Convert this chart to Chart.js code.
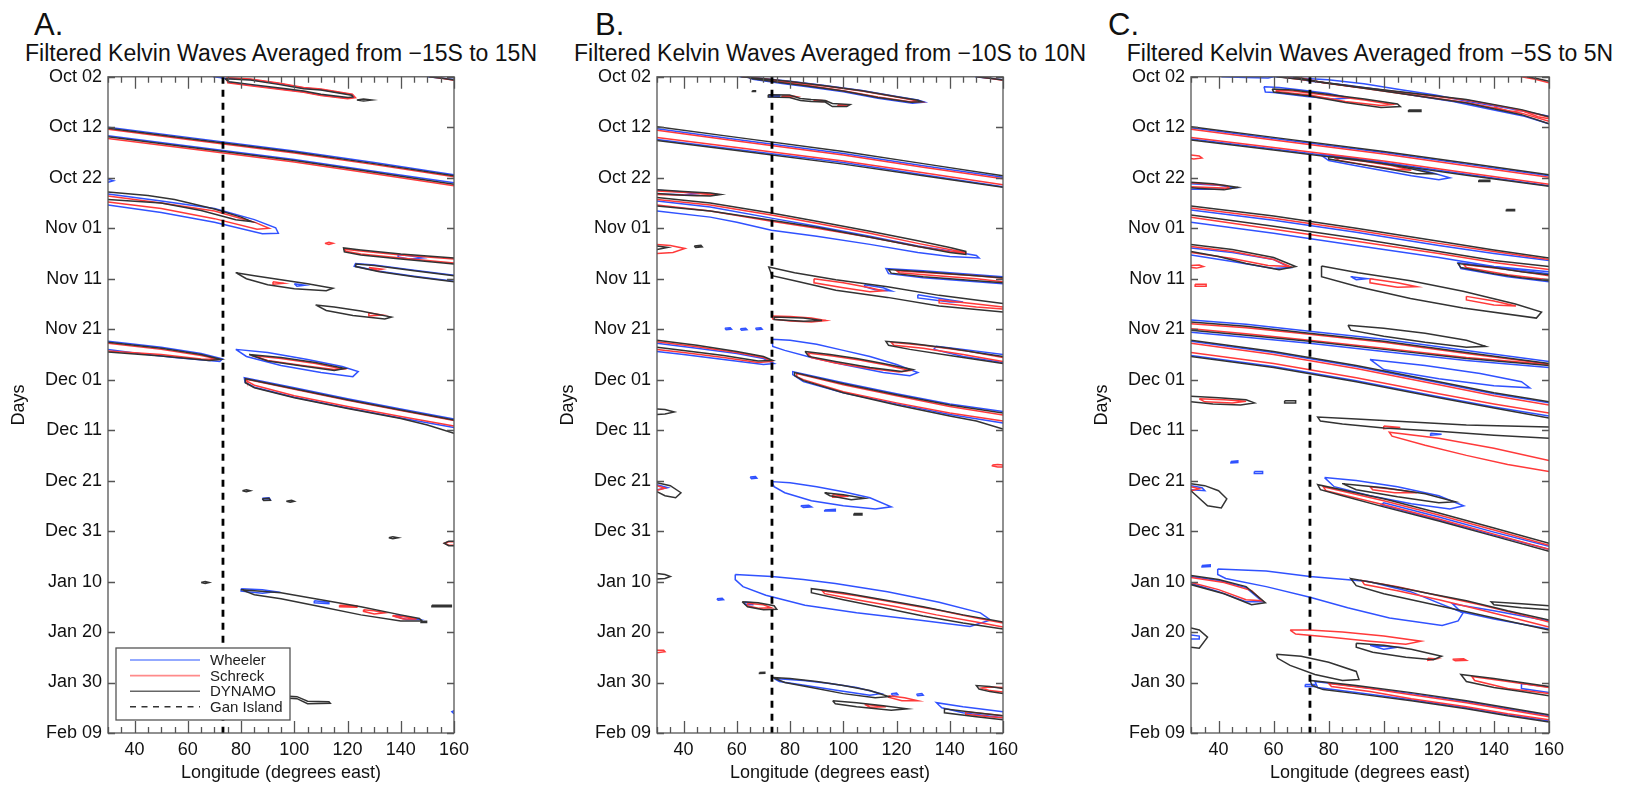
<!DOCTYPE html>
<html>
<head>
<meta charset="utf-8">
<script src="https://cdn.jsdelivr.net/npm/chart.js@4.4.1/dist/chart.umd.min.js"></script>
<style>
  body { margin: 0; background: #fff; width: 1637px; height: 786px; overflow: hidden; position: relative;
         font-family: "Liberation Sans", Arial, Helvetica, sans-serif; color: #111; }
  .letter { position: absolute; top: 9px; font-size: 31px; line-height: 1; }
  .ttl { position: absolute; top: 42px; width: 640px; text-align: center; font-size: 23px; line-height: 1; white-space: nowrap; }
  canvas { position: absolute; top: 60px; }
</style>
</head>
<body>
<div class="letter" style="left:34px">A.</div>
<div class="letter" style="left:595px">B.</div>
<div class="letter" style="left:1108px">C.</div>
<div class="ttl" style="left:-39px">Filtered Kelvin Waves Averaged from −15S to 15N</div>
<div class="ttl" style="left:510px">Filtered Kelvin Waves Averaged from −10S to 10N</div>
<div class="ttl" style="left:1050px">Filtered Kelvin Waves Averaged from −5S to 5N</div>
<canvas id="panelA"></canvas>
<canvas id="panelB"></canvas>
<canvas id="panelC"></canvas>
<script>
// axes
const lonTicks = [40, 60, 80, 100, 120, 140, 160];
const dayTicks = [0, 10, 20, 30, 40, 50, 60, 70, 80, 90, 100, 110, 120, 130];
const dayLabels = ['Oct 02', 'Oct 12', 'Oct 22', 'Nov 01', 'Nov 11', 'Nov 21', 'Dec 01',
                   'Dec 11', 'Dec 21', 'Dec 31', 'Jan 10', 'Jan 20', 'Jan 30', 'Feb 09'];
const ganLon = 73.2;
const legendLabels = ['Wheeler', 'Schreck', 'DYNAMO', 'Gan Island'];

// contours: each entry is [lon, day, lon, day, ...]
const wheelerA = [
  [69.5,0, 72,0.15, 74,0.35],
  [74,0.3, 83.5,0.55, 94,1.35, 103.5,2.2, 110,2.5, 121.8,3.55, 122.5,4.05, 120,4.25, 110,3.6, 103.5,2.95, 96.5,2.5, 83.5,1.65, 75.5,1.1, 74,0.3],
  [150,0, 155,0.25, 160,0.55],
  [30,10.0, 60,12.0, 100,14.7, 130,17.0, 160,19.4],
  [30,11.7, 60,13.7, 100,16.4, 130,18.7, 160,21.0],
  [30,20.3, 32,20.6, 30,20.9],
  [30,23.2, 50,24.6, 70,26.1, 85,28.3, 93,29.9, 94,31.0, 88,31.1, 70,28.8, 50,26.9, 30,25.4],
  [139,35.2, 144,35.5, 148,35.9, 143,36.1, 139,35.7, 139,35.2],
  [160,39.3, 145,38.3, 130,37.3, 123,37.0, 122.5,37.5, 132,38.5, 145,39.5, 160,40.5],
  [100,41.0, 104,41.3, 101,41.5, 100,41.0],
  [30,52.4, 50,53.6, 65,54.8, 73,55.9, 72,56.4, 55,55.6, 40,54.7, 30,54.0],
  [78,54.0, 90,54.6, 105,56.0, 118,57.4, 124,58.4, 122,59.4, 110,58.6, 95,57.2, 82,55.4, 78,54.0],
  [160,67.8, 140,65.8, 120,63.8, 100,61.6, 81.2,59.6, 81.5,60.5, 85,61.5, 100,63.5, 120,65.6, 140,67.6, 160,69.5],
  [88,83.5, 90.5,83.4, 91,83.8, 88.5,83.9, 88,83.5],
  [80,101.4, 88,101.6, 93,102.0, 88,102.3, 80,101.9, 80,101.4],
  [107.5,103.8, 113,104.1, 113,104.4, 107.5,104.2, 107.5,103.8],
  [138,106.6, 143,107.0, 147,107.5, 142,107.5, 138,106.9, 138,106.6],
  [160,125.6, 159.2,125.8, 160,126.2]
];
const schreckA = [
  [74.5,0.15, 83.5,0.45, 94,1.25, 103.5,2.1, 110,2.4, 121.8,3.45, 123,4.15, 120,4.35, 110,3.7, 103.5,3.05, 96.5,2.6, 83.5,1.75, 75,1.2, 74.5,0.15],
  [151,0, 156,0.35, 160,0.7],
  [30,10.4, 60,12.4, 100,15.1, 130,17.4, 160,19.8],
  [30,12.2, 60,14.2, 100,16.9, 130,19.2, 160,21.6],
  [30,23.6, 50,25.0, 70,26.6, 85,28.8, 90.5,30.0, 86,30.2, 70,28.1, 50,26.1, 30,24.8],
  [111.5,33.0, 113,32.8, 114.5,33.0, 113,33.2, 111.5,33.0],
  [160,36.1, 150,35.7, 140,35.3, 125,34.5, 118.8,34.15, 119.3,34.55, 125,35.1, 140,35.9, 150,36.4, 160,36.9],
  [128,37.8, 133,38.1, 131,38.3, 128,37.8],
  [92,40.6, 96,40.9, 92,41.1, 92,40.6],
  [128,46.8, 133,47.2, 128,47.4, 128,46.8],
  [30,52.8, 50,54.0, 65,55.2, 72,56.0, 65,55.9, 50,55.0, 30,54.3],
  [84,55.2, 95,55.8, 108,56.8, 118,57.9, 115,58.0, 103,57.2, 90,56.2, 84,55.2],
  [160,68.1, 140,66.1, 120,64.1, 100,61.9, 82,59.9, 82.2,60.3, 85,61.1, 100,63.2, 120,65.3, 140,67.3, 160,69.2],
  [160,92.1, 158,92.1, 156.5,92.4, 158,92.8, 160,92.8],
  [117,104.7, 123.5,104.8, 123.5,105.1, 117,105.0, 117,104.7],
  [126,105.6, 130,105.8, 134,106.2, 130,106.4, 126,105.9, 126,105.6],
  [137,106.7, 142,107.0, 146,107.4, 141,107.4, 137,106.8, 137,106.7]
];
const dynamoA = [
  [74,0.4, 83.5,0.65, 94,1.5, 103.5,2.35, 110,2.6, 121.6,3.66, 122,4.0, 120.2,4.1, 110,3.47, 103.5,2.8, 96.9,2.35, 83.5,1.5, 75.5,1.0, 74,0.4],
  [123.5,4.6, 126,4.42, 129,4.6, 126,4.78, 123.5,4.6],
  [150.5,0, 155.5,0.3, 160,0.62],
  [30,10.2, 60,12.2, 100,14.9, 130,17.2, 160,19.6],
  [30,11.9, 60,13.9, 100,16.6, 130,18.9, 160,21.3],
  [30,22.8, 45,23.5, 55,24.3, 70,26.2, 80,27.8, 84,28.7, 78,28.3, 65,26.5, 50,25.0, 30,24.3],
  [160,35.9, 150,35.5, 140,35.1, 125,34.3, 118.5,33.9, 118.8,34.7, 125,35.3, 140,36.1, 150,36.6, 160,37.1],
  [160,39.4, 145,38.4, 130,37.4, 123.2,37.1, 123,37.6, 132,38.6, 145,39.6, 160,40.6],
  [78,38.8, 85,39.4, 95,40.2, 105,41.0, 114.5,41.9, 112,42.4, 100,42.0, 90,41.2, 82,40.0, 78,38.8],
  [108,45.2, 115,45.6, 125,46.4, 136.5,47.6, 134,48.0, 122,47.3, 112,46.3, 108,45.2],
  [30,52.6, 50,53.8, 65,55.0, 72.5,56.0, 68,56.2, 50,55.3, 30,54.5],
  [83,55.0, 95,55.6, 108,56.6, 119,57.8, 115,58.2, 103,57.3, 90,56.3, 83,55.0],
  [160,68.0, 140,66.0, 120,64.0, 100,61.8, 81.6,59.8, 81.6,60.6, 85,61.6, 100,63.6, 120,65.7, 140,67.7, 150,69.0, 160,70.6],
  [80.5,82.0, 82,81.8, 83.5,82.0, 82,82.2, 80.5,82.0],
  [88,83.6, 90.5,83.5, 91,83.9, 88.5,83.95, 88,83.6],
  [97,84.1, 99,83.9, 100,84.1, 98.5,84.3, 97,84.1],
  [135.5,91.3, 137,91.1, 139,91.3, 137,91.5, 135.5,91.3],
  [160,92.0, 158,92.0, 156.3,92.4, 158,92.9, 160,92.9],
  [65,100.2, 66.5,100.0, 68,100.2, 66.5,100.4, 65,100.2],
  [80,101.6, 95,102.2, 110,103.6, 125,105.0, 140,106.6, 147,107.3, 148,107.8, 140,107.8, 125,106.6, 110,105.0, 95,103.4, 85,102.6, 80,101.6],
  [147.6,107.9, 149.7,107.85, 149.7,108.1, 147.6,108.1, 147.6,107.9],
  [151.7,104.7, 159,104.7, 159,105.0, 151.7,105.0, 151.7,104.7],
  [85,122.4, 95,122.6, 101,122.8, 105,123.7, 113,123.8, 113.5,124.1, 105,124.2, 101,123.2, 95,123.0, 85,122.8, 85,122.4]
];

const wheelerB = [
  [61,0, 69,0.3, 80,0.9, 93,1.7, 107,2.7, 120,3.9, 128,4.6, 130.5,5.0, 126,5.25, 113,4.25, 100,2.95, 86.5,1.95, 77,1.35, 66,0.5, 63.5,0],
  [72,3.65, 76,3.65, 76,3.95, 72,3.95, 72,3.65],
  [149.5,0, 155,0.3, 160,0.6],
  [30,10.3, 60,12.4, 100,15.2, 130,17.6, 160,19.9],
  [30,12.4, 60,14.4, 100,17.0, 130,19.4, 160,21.8],
  [30,22.5, 40,22.8, 46,23.1, 40,23.35, 30,23.2],
  [30,24.6, 50,25.8, 73,28.0, 90,29.6, 110,31.6, 128,33.5, 140,34.5, 150,35.4, 151,35.9, 140,35.6, 128,34.8, 110,33.2, 90,31.6, 73,30.4, 60,28.8, 50,27.8, 30,26.6],
  [160,39.6, 145,39.0, 130,38.4, 116,38.0, 117,39.0, 130,39.8, 145,40.4, 160,41.0],
  [108,41.2, 115,41.8, 118,42.4, 112,42.2, 108,41.6, 108,41.2],
  [128,43.2, 140,44.2, 145,44.6, 140,44.6, 128,43.8, 128,43.2],
  [55.5,49.8, 57.5,49.7, 58,50.0, 56,50.1, 55.5,49.8],
  [61.3,49.9, 63.3,49.8, 63.8,50.1, 61.8,50.2, 61.3,49.9],
  [67,49.8, 69,49.7, 69.5,50.0, 67.5,50.1, 67,49.8],
  [30,52.8, 45,53.8, 60,54.8, 70,55.8, 74,56.8, 70,57.0, 55,56.0, 40,55.0, 30,54.4],
  [73.2,52.0, 80,52.2, 90,53.0, 100,54.2, 110,55.4, 120,57.0, 128,58.6, 125,59.2, 115,58.6, 100,57.0, 88,55.6, 78,54.2, 73.5,53.4, 73.2,52.0],
  [160,55.0, 145,54.0, 135,53.4, 134,54.0, 145,55.4, 160,56.6],
  [160,66.3, 140,64.8, 120,62.8, 100,60.6, 81,58.4, 81,59.0, 85,60.4, 100,62.6, 120,64.8, 140,66.9, 160,68.6],
  [73.2,80.2, 80,80.4, 90,81.2, 100,82.2, 110,83.4, 118,85.2, 112,85.6, 100,85.0, 88,84.0, 78,82.4, 74,81.2, 73.2,80.2],
  [65,79.3, 67,79.2, 67.5,79.5, 65.5,79.6, 65,79.3],
  [84,85.0, 87,84.9, 88,85.2, 85,85.3, 84,85.0],
  [93,85.8, 97,85.7, 97,86.0, 93,86.0, 93,85.8],
  [30,80.8, 34,81.4, 30,81.8],
  [59.4,98.6, 73.2,99.0, 85,99.6, 97,100.4, 116.6,102.0, 136,104.1, 151.5,106.2, 155.3,107.6, 147.6,108.9, 128.2,107.6, 105,106.2, 85.6,104.7, 70.9,102.7, 62.3,101.0, 59.4,99.6, 59.4,98.6],
  [52.5,103.4, 54.5,103.3, 55,103.6, 53,103.7, 52.5,103.4],
  [63,104.1, 66,104.2, 66,104.6, 63,104.5, 63,104.1],
  [74,119.2, 85,119.6, 95,120.2, 105,121.0, 114,122.2, 110,122.5, 98,121.6, 86,120.6, 76,119.8, 74,119.2],
  [118,122.2, 120,122.1, 120.5,122.4, 118.5,122.5, 118,122.2],
  [127.5,122.3, 129.5,122.2, 130,122.5, 128,122.6, 127.5,122.3],
  [160,125.8, 145,124.8, 135,124.0, 137,125.0, 145,126.0, 160,127.0]
];
const schreckB = [
  [62,0, 70,0.4, 80,1.0, 93,1.8, 107,2.8, 120,4.0, 127,4.7, 129,4.95, 125,4.95, 113,4.0, 100,2.75, 86.5,1.7, 77,1.1, 66,0.3, 64,0],
  [77,3.8, 80,3.75, 82,3.9, 80,4.0, 77,3.95, 77,3.8],
  [89,4.65, 92,4.7, 94,4.85, 92,4.9, 89,4.8, 89,4.65],
  [98,5.55, 102,5.6, 98,5.75, 98,5.55],
  [150.5,0, 155.5,0.35, 160,0.7],
  [30,10.6, 60,12.7, 100,15.5, 130,17.9, 160,20.2],
  [30,12.0, 60,14.0, 100,16.7, 130,19.0, 160,21.4],
  [30,22.6, 45,23.0, 53,23.3, 45,23.5, 30,23.3],
  [30,24.3, 50,25.4, 73,27.4, 90,29.0, 110,31.0, 128,33.0, 140,34.2, 146,34.8, 146,35.0, 140,34.6, 128,33.6, 110,31.8, 90,30.0, 73,28.6, 50,26.6, 30,25.4],
  [30,33.2, 35,33.4, 40.5,34.0, 36,34.8, 30,35.0],
  [160,39.9, 150,39.4, 135,38.9, 120,38.4, 121,38.8, 135,39.4, 150,40.0, 160,40.6],
  [89,40.0, 100,40.8, 110,41.8, 115,42.4, 110,42.6, 100,41.8, 89,40.8, 89,40.0],
  [160,45.6, 150,45.0, 136,44.2, 136,44.8, 150,45.6, 160,46.0],
  [73.2,47.4, 80,47.5, 88,47.8, 93.5,48.3, 88,48.6, 80,48.4, 73.5,48.0, 73.2,47.4],
  [30,52.5, 45,53.5, 60,54.6, 70,55.6, 73,56.4, 68,56.6, 55,55.6, 40,54.6, 30,54.0],
  [86.5,54.7, 96,55.3, 106,56.1, 116,57.1, 125,58.2, 121,58.5, 110,57.8, 97,56.7, 88,55.6, 86.5,54.7],
  [160,55.6, 145,54.2, 130,53.2, 118,52.6, 119,53.2, 130,53.8, 145,55.0, 160,56.4],
  [160,67.0, 140,65.3, 120,63.2, 100,61.0, 82.5,58.8, 82.5,59.4, 85,60.0, 100,62.4, 120,64.6, 140,66.6, 160,68.2],
  [156,76.9, 158,76.8, 160,76.9, 160,77.3, 158,77.3, 156,77.1, 156,76.9],
  [96,82.8, 102,83.1, 96,83.3, 96,82.8],
  [30,81.0, 33,81.5, 30,81.9],
  [160,108.2, 150,107.2, 135,105.6, 120,104.2, 105,102.8, 92,101.8, 93,102.4, 105,103.6, 120,105.0, 135,106.6, 150,108.0, 160,109.0],
  [64,104.3, 70,104.6, 73,105.2, 68,105.3, 64,104.8, 64,104.3],
  [30,113.6, 32.5,113.6, 33,113.9, 30,114.1],
  [117,122.6, 123,123.0, 128,123.6, 122,123.6, 117,122.9, 117,122.6],
  [160,121.0, 155,120.9, 152,121.1, 155,121.6, 160,121.9],
  [108,124.3, 116,124.8, 110,124.9, 108,124.3],
  [160,126.6, 155,126.3, 146,125.8, 146,126.3, 155,126.8, 160,127.0]
];
const dynamoB = [
  [61.5,0, 69,0.35, 80,0.95, 93,1.75, 107,2.75, 120,3.95, 128,4.65, 129.5,4.95, 125.5,5.05, 113,4.1, 100,2.8, 86.5,1.8, 77,1.2, 66,0.4, 63.8,0],
  [71.8,3.55, 79.8,3.6, 83.9,4.3, 87.9,4.5, 93.2,4.7, 95.9,5.3, 102.6,5.5, 101.3,5.9, 95.9,5.9, 93.2,5.0, 87.9,4.9, 83.9,4.7, 79.8,4.1, 71.8,4.0, 71.8,3.55],
  [65.8,2.75, 67,2.75, 67,2.9, 65.8,2.9, 65.8,2.75],
  [150,0, 155,0.3, 160,0.62],
  [30,9.9, 60,12.0, 100,14.8, 130,17.2, 160,19.6],
  [30,12.6, 60,14.6, 100,17.3, 130,19.6, 160,21.9],
  [30,22.4, 40,22.7, 50,23.0, 54,23.3, 50,23.6, 40,23.45, 30,23.1],
  [30,23.9, 50,25.0, 73,27.0, 90,28.6, 110,30.6, 128,32.5, 140,33.8, 146,34.6, 146,35.2, 140,34.8, 128,33.6, 110,31.8, 90,29.8, 73,28.4, 50,26.6, 30,25.6],
  [30,33.5, 34,33.8, 30,34.2],
  [44,33.5, 46.5,33.4, 47,33.7, 44.5,33.8, 44,33.5],
  [160,39.8, 145,39.2, 130,38.6, 117,38.2, 118,38.9, 130,39.6, 145,40.2, 160,40.8],
  [160,44.9, 136,43.3, 116.6,41.6, 97.2,40.2, 81.7,38.8, 72,37.7, 73.2,39.4, 81.7,40.4, 97.2,42.3, 116.6,43.7, 136,45.4, 160,46.6],
  [74,47.6, 85,47.8, 92,48.3, 85,48.45, 74,48.1, 74,47.6],
  [30,52.2, 45,53.2, 60,54.4, 70,55.4, 73.5,56.2, 68,56.3, 55,55.2, 40,54.2, 30,53.6],
  [85.6,54.4, 95,55.0, 105,55.8, 115,56.8, 126,58.0, 122,58.4, 110,57.6, 97,56.4, 87,55.4, 85.6,54.4],
  [160,55.4, 150,54.6, 140,53.8, 125,52.8, 116,52.4, 117,53.2, 125,54.0, 140,55.2, 150,56.0, 160,56.8],
  [160,66.6, 140,65.0, 120,63.0, 100,60.8, 81.7,58.6, 81.7,59.2, 85,60.2, 100,62.6, 120,65.0, 140,67.2, 150,68.2, 160,69.8],
  [30,65.8, 33,65.9, 36.5,66.4, 33,66.8, 30,66.9],
  [93,82.4, 100,82.8, 108,83.5, 103,83.8, 95,83.0, 93,82.4],
  [104,86.5, 107,86.5, 107,86.8, 104,86.8, 104,86.5],
  [30,80.4, 35,81.0, 39,82.4, 37,83.4, 33,83.0, 30,82.2],
  [160,108.0, 145,106.6, 130,105.0, 115,103.6, 100,102.2, 88,101.4, 88,102.2, 100,103.6, 115,105.2, 130,106.8, 145,108.2, 160,109.4],
  [30,98.4, 33,98.6, 35,99.0, 33,99.4, 30,99.5],
  [62,104.0, 68,104.2, 74,104.8, 75,105.5, 70,105.6, 64,105.0, 62,104.0],
  [68.5,118.0, 70.5,117.95, 70.5,118.15, 68.5,118.2, 68.5,118.0],
  [73.5,119.0, 80,119.2, 90,119.8, 100,120.6, 110,121.6, 117,122.8, 112,123.0, 100,122.2, 88,121.0, 78,120.0, 73.5,119.0],
  [160,121.2, 155,120.8, 150,120.6, 151,121.3, 155,121.8, 160,122.2],
  [96,123.6, 105,124.0, 115,124.6, 124,125.2, 118,125.5, 105,124.8, 97,124.2, 96,123.6],
  [160,126.6, 150,126.0, 138,125.2, 138,126.0, 150,126.8, 160,127.4]
];

const wheelerC = [
  [60,0, 66.8,0.2, 79.8,0.6, 92.8,1.4, 105.7,2.5, 118.7,3.6, 131.7,5.0, 144.7,6.2, 160,7.8],
  [66,0, 73.3,0.9, 86.3,1.6, 99.3,2.6, 112.2,3.8, 125.2,4.9, 138.2,6.4, 151.1,7.8, 160,9.3],
  [41,0, 50,0.15, 58,0.25, 60,0],
  [56.5,1.95, 62,2.1, 70,2.6, 80,3.3, 88,4.2, 82,4.4, 72,3.9, 60,3.1, 57,3.0, 56.5,1.95],
  [30,10.1, 60,12.2, 100,15.0, 130,17.3, 160,19.6],
  [30,12.3, 60,14.3, 100,17.0, 130,19.3, 160,21.6],
  [30,21.2, 40,21.5, 46,22.0, 40,22.3, 30,22.3],
  [77,15.4, 85,15.8, 95,16.6, 105,17.4, 115,18.6, 124,20.0, 120,20.4, 110,19.6, 100,18.6, 90,17.6, 80,16.6, 77,15.4],
  [30,26.4, 60,28.4, 90,30.8, 120,33.4, 140,35.0, 160,36.4],
  [30,28.8, 60,31.0, 90,33.4, 120,35.8, 140,37.6, 160,38.6],
  [30,33.9, 45,34.8, 60,36.2, 66,37.8, 60,38.0, 45,36.6, 30,35.3],
  [88,39.6, 94,40.0, 90,40.2, 88,39.6],
  [160,39.0, 145,38.0, 127,36.8, 128,38.0, 145,39.6, 160,40.6],
  [30,48.2, 50,49.0, 73,50.4, 100,52.0, 130,54.2, 160,56.4],
  [30,50.6, 50,51.6, 73,52.8, 100,54.4, 130,56.2, 160,57.6],
  [30,52.4, 60,54.6, 90,57.4, 120,60.6, 140,62.8, 160,64.6],
  [30,55.2, 60,57.4, 90,60.2, 120,63.4, 140,65.4, 160,67.2],
  [95,56.0, 115,57.2, 135,58.8, 150,60.4, 153,61.6, 140,61.2, 120,59.8, 100,58.0, 95,56.0],
  [117,70.6, 121,70.8, 117,71.0, 117,70.6],
  [44.5,76.2, 47,76.1, 47,76.4, 44.5,76.5, 44.5,76.2],
  [53,78.2, 56,78.2, 56,78.6, 53,78.6, 53,78.2],
  [78.5,79.4, 90,80.0, 105,81.2, 120,83.0, 129,85.0, 124,85.6, 110,84.6, 95,83.0, 82,81.2, 78.5,79.4],
  [160,93.0, 140,90.2, 120,87.2, 100,84.4, 99,84.8, 120,87.8, 140,90.8, 160,93.6],
  [30,81.0, 34,81.4, 35,82.0, 30,81.8],
  [39.7,97.5, 57.3,97.9, 73.2,99.0, 94.5,100.0, 109.7,102.0, 128.8,106.2, 127,107.8, 121.2,108.7, 102.1,107.2, 86.9,105.2, 73.2,103.1, 57.3,101.0, 42.6,99.4, 39.7,98.6, 39.7,97.5],
  [34,96.8, 37,96.7, 37,97.0, 34,97.1, 34,96.8],
  [160,107.8, 140,105.8, 125,104.4, 128,106.0, 140,107.4, 160,109.4],
  [30,99.0, 40,99.8, 50,101.2, 56,104.0, 50,104.0, 40,102.0, 30,100.4],
  [95,112.6, 105,113.0, 100,113.4, 95,112.6],
  [30,110.6, 33,110.8, 33,111.4, 30,111.4],
  [71.5,120.4, 75,120.4, 75,120.8, 71.5,120.8, 71.5,120.4],
  [160,126.6, 145,125.2, 130,123.8, 110,122.2, 90,120.8, 75,119.8, 76,121.0, 90,122.0, 110,123.4, 130,125.0, 145,126.4, 160,127.6],
  [160,120.9, 150,120.2, 150,121.2, 160,122.0]
];
const schreckC = [
  [62,0, 72,0.7, 90,2.0, 110,3.3, 130,4.6, 150,6.6, 160,8.0],
  [68,0, 78,1.2, 92,2.2, 110,3.6, 130,5.1, 150,7.2, 160,8.8],
  [140,6.0, 146,6.9, 150,6.7, 156,7.9, 160,8.3],
  [61,2.6, 67,2.8, 80,3.7, 93,4.6, 103,5.5, 99,5.7, 86,4.9, 73,3.6, 61,2.9, 61,2.6],
  [150,0, 155,0.5, 160,1.2],
  [30,10.4, 60,12.5, 100,15.3, 130,17.6, 160,19.9],
  [30,12.0, 60,14.0, 100,16.7, 130,19.0, 160,21.3],
  [30,15.5, 33,15.7, 34,16.1, 31,16.3, 30,16.2],
  [30,21.0, 43,21.6, 44,22.1, 30,21.8],
  [82,16.0, 92,16.7, 102,17.5, 110,18.5, 104,18.3, 94,17.5, 84,16.6, 82,16.0],
  [30,26.0, 60,28.0, 90,30.4, 120,33.0, 140,34.6, 160,36.2],
  [30,27.8, 60,30.2, 90,32.6, 120,35.0, 140,36.8, 160,38.2],
  [30,33.6, 45,34.6, 60,36.2, 66,37.6, 58,37.4, 45,36.0, 30,34.8],
  [30,37.4, 33,37.3, 34.5,37.6, 32,37.9, 30,37.8],
  [31.5,41.1, 35.5,41.1, 35.5,41.5, 31.5,41.5, 31.5,41.1],
  [95,40.0, 105,40.8, 112,41.6, 105,41.7, 95,40.8, 95,40.0],
  [130,43.5, 140,44.4, 148,45.4, 140,45.2, 130,44.2, 130,43.5],
  [160,39.4, 145,38.2, 129,37.2, 130,37.8, 145,39.2, 160,40.2],
  [30,48.9, 50,49.7, 73,51.0, 100,52.6, 130,54.8, 160,56.9],
  [30,49.9, 50,50.9, 73,52.2, 100,53.8, 130,55.6, 160,57.0],
  [30,52.8, 60,55.0, 90,57.8, 120,61.0, 140,63.2, 160,65.0],
  [30,54.6, 60,56.8, 90,59.6, 120,62.8, 140,64.8, 160,66.6],
  [33,63.8, 42,64.0, 50,64.3, 45,64.6, 35,64.4, 33,63.8],
  [160,76.0, 140,73.6, 120,71.6, 102,70.4, 103,71.2, 115,73.0, 130,75.0, 145,76.8, 160,78.2],
  [100,69.2, 106,69.5, 100,69.7, 100,69.2],
  [95,81.2, 105,81.8, 112,82.4, 104,82.4, 96,81.8, 95,81.2],
  [160,92.8, 140,89.8, 120,86.8, 100,84.0, 78,81.2, 79,82.0, 100,84.8, 120,87.6, 140,90.6, 160,93.6],
  [30,81.2, 33,81.6, 30,82.0],
  [160,108.0, 150,106.6, 135,104.6, 120,102.8, 105,101.0, 92,99.8, 93,100.6, 105,101.8, 120,103.6, 135,105.6, 150,107.6, 160,109.0],
  [30,99.2, 42,100.2, 52,101.8, 56,103.8, 50,103.6, 40,101.6, 30,100.2],
  [66,109.6, 73,109.6, 85,110.0, 100,110.8, 113.5,111.8, 108,112.4, 95,111.8, 80,111.0, 68,110.4, 66,109.6],
  [125,115.4, 129,115.3, 130,115.6, 126,115.7, 125,115.4],
  [116,115.2, 119,115.3, 116,115.6, 116,115.2],
  [160,126.8, 145,125.4, 130,124.0, 110,122.4, 95,121.2, 80,120.2, 81,120.8, 95,121.8, 110,123.2, 130,124.8, 145,126.2, 160,127.4],
  [160,121.0, 145,119.8, 132,118.8, 133,119.6, 145,121.2, 160,122.2]
];
const dynamoC = [
  [61,0, 71,0.6, 90,1.95, 110,3.2, 130,4.5, 150,6.5, 160,7.9],
  [67,0, 77,1.1, 91,2.1, 110,3.6, 130,5.2, 150,7.5, 160,9.3],
  [59.5,2.4, 67,2.6, 80,3.5, 93,4.4, 105,5.4, 106,5.9, 99,6.1, 86,5.1, 73,3.8, 60,3.0, 59.5,2.4],
  [109,6.6, 113.5,6.6, 113.5,6.85, 109,6.85, 109,6.6],
  [152,0, 156,0.4, 160,0.9],
  [30,9.9, 60,12.0, 100,14.8, 130,17.1, 160,19.4],
  [30,12.5, 60,14.5, 100,17.2, 130,19.5, 160,21.7],
  [30,20.9, 38,21.2, 47,21.9, 42,22.4, 35,22.2, 30,22.0],
  [80,15.8, 90,16.4, 100,17.2, 110,18.2, 118,19.2, 112,19.2, 100,18.1, 90,17.2, 80,16.3, 80,15.8],
  [134.5,20.5, 138.5,20.5, 138.5,20.75, 134.5,20.75, 134.5,20.5],
  [144.5,26.3, 147.5,26.3, 147.5,26.55, 144.5,26.55, 144.5,26.3],
  [30,25.6, 60,27.6, 90,30.0, 120,32.6, 140,34.3, 160,35.9],
  [30,27.4, 60,29.6, 90,32.0, 120,34.6, 140,36.4, 160,37.6],
  [30,33.2, 45,34.2, 60,35.8, 68,37.6, 62,38.2, 50,37.0, 40,35.6, 30,34.6],
  [77.4,37.5, 90.7,38.8, 109.7,40.4, 128.8,42.5, 147.8,45.0, 157.3,46.6, 155.4,47.8, 128.8,45.8, 109.7,43.9, 90.7,41.6, 77.4,39.6, 77.4,37.5],
  [160,39.2, 150,38.6, 140,37.8, 127,37.0, 128,37.8, 140,39.0, 150,39.8, 160,40.4],
  [30,48.6, 50,49.4, 73,50.8, 100,52.4, 130,54.6, 160,56.8],
  [30,50.2, 50,51.2, 73,52.4, 100,54.0, 130,55.8, 160,57.2],
  [87,49.2, 100,49.8, 115,50.8, 130,52.2, 137,53.4, 130,53.6, 115,52.6, 100,51.4, 88,50.2, 87,49.2],
  [30,52.2, 60,54.4, 90,57.2, 120,60.4, 140,62.6, 160,64.4],
  [30,55.4, 60,57.6, 90,60.4, 120,63.6, 140,65.6, 160,67.6],
  [30,63.3, 40,63.6, 50,64.0, 53,64.6, 48,65.0, 38,64.8, 30,64.4],
  [64,64.2, 68,64.2, 68,64.6, 64,64.6, 64,64.2],
  [160,69.4, 130,69.0, 110,68.4, 90,67.8, 76,67.4, 77,68.2, 85,68.8, 100,69.6, 120,70.2, 140,71.0, 160,71.6],
  [85,80.6, 100,81.4, 115,82.6, 126,84.2, 120,84.4, 105,83.2, 90,81.8, 85,80.6],
  [160,92.4, 140,89.4, 120,86.4, 100,83.6, 76,80.8, 77,81.8, 85,83.0, 100,85.2, 120,88.0, 140,91.0, 160,94.0],
  [30,80.6, 35,81.0, 40,82.0, 43,83.6, 41,85.4, 36,85.0, 32,83.0, 30,82.0],
  [160,107.6, 145,105.8, 130,103.8, 115,102.2, 100,100.6, 88,99.4, 90,100.8, 100,102.4, 115,104.2, 130,106.0, 145,107.8, 160,109.6],
  [160,104.8, 150,104.4, 139,104.0, 140,104.6, 150,105.2, 160,105.6],
  [30,98.8, 40,99.6, 50,101.0, 57,104.2, 52,104.6, 42,102.4, 30,100.6],
  [90,112.2, 100,112.6, 110,113.4, 121,114.8, 118,115.5, 108,115.0, 96,114.0, 90,113.0, 90,112.2],
  [30,109.2, 33,109.6, 36,111.0, 33,113.2, 30,113.0],
  [61,114.4, 70,114.8, 80,116.0, 90,117.8, 91,119.4, 85,119.6, 75,118.4, 66,116.6, 61.5,115.2, 61,114.4],
  [160,126.4, 145,125.0, 130,123.6, 110,122.0, 90,120.6, 73.2,119.6, 74,120.6, 78,121.4, 90,122.2, 110,123.6, 130,125.2, 145,126.6, 160,127.8],
  [160,120.8, 150,120.0, 140,119.2, 128,118.4, 130,119.8, 140,121.0, 150,121.8, 160,122.6]
];

const colWheeler = '#3052ff';
const colSchreck = '#ff3a3a';
const colDynamo = '#333333';
const FONT = '"Liberation Sans", Arial, Helvetica, sans-serif';

function toPoints(flat) {
  const pts = [];
  for (let i = 0; i < flat.length; i += 2) pts.push({ x: flat[i], y: flat[i + 1] });
  return pts;
}

function contourSets(list, color, order) {
  return list.map(c => ({
    data: toPoints(c),
    showLine: true,
    borderColor: color,
    borderWidth: 1.5,
    pointRadius: 0,
    tension: 0,
    order: order
  }));
}

// inward IDL-style ticks and plot frame
const framePlugin = {
  id: 'frame',
  afterDatasetsDraw(chart) {
    const { ctx, chartArea: a } = chart;
    const x = chart.scales.x, y = chart.scales.y;
    ctx.save();
    ctx.strokeStyle = '#555';
    ctx.lineWidth = 1.3;
    ctx.beginPath();
    for (let v = 30; v <= 160; v += 5) {
      const px = Math.round(x.getPixelForValue(v)) + 0.5;
      const len = v % 20 === 0 ? 12 : 6;
      ctx.moveTo(px, a.bottom); ctx.lineTo(px, a.bottom - len);
      ctx.moveTo(px, a.top); ctx.lineTo(px, a.top + len);
    }
    dayTicks.forEach(d => {
      const py = Math.round(y.getPixelForValue(d)) + 0.5;
      ctx.moveTo(a.left, py); ctx.lineTo(a.left + 7, py);
      ctx.moveTo(a.right, py); ctx.lineTo(a.right - 7, py);
    });
    ctx.stroke();
    ctx.strokeRect(a.left, a.top, a.width, a.height);
    ctx.restore();
  }
};

// boxed legend in the lower left of the plot
const boxLegend = {
  id: 'boxLegend',
  afterDraw(chart, args, opts) {
    if (!opts.show) return;
    const { ctx, chartArea: a } = chart;
    const left = a.left + 8, w = 174, h = 72, top = a.bottom - 13 - h;
    ctx.save();
    ctx.fillStyle = '#fff';
    ctx.fillRect(left, top, w, h);
    ctx.strokeStyle = '#555';
    ctx.lineWidth = 1.3;
    ctx.strokeRect(left, top, w, h);
    const cols = ['#6f8cff', '#ff8a8a', '#666', '#333'];
    ctx.font = '15px ' + FONT;
    ctx.textBaseline = 'middle';
    legendLabels.forEach((lab, i) => {
      const yy = top + 12 + i * 15.6;
      ctx.beginPath();
      ctx.strokeStyle = cols[i];
      ctx.lineWidth = 1.6;
      ctx.setLineDash(i === 3 ? [6, 5.5] : []);
      ctx.moveTo(left + 14, yy); ctx.lineTo(left + 84, yy);
      ctx.stroke();
      ctx.fillStyle = '#222';
      ctx.fillText(lab, left + 94, yy + 1);
    });
    ctx.restore();
  }
};

function makePanel(id, canvasLeft, plotWidth, W, S, D, showLegend) {
  const cv = document.getElementById(id);
  cv.width = 108 + plotWidth + 40;
  cv.height = 726;
  cv.style.left = canvasLeft + 'px';
  const datasets = [
    { data: [{ x: ganLon, y: 0 }, { x: ganLon, y: 130 }], showLine: true, borderColor: '#000',
      borderWidth: 2.8, borderDash: [7, 6], pointRadius: 0, order: 0 }
  ].concat(contourSets(D, colDynamo, 1), contourSets(S, colSchreck, 2), contourSets(W, colWheeler, 3));

  new Chart(cv, {
    type: 'scatter',
    data: { datasets },
    options: {
      responsive: false,
      animation: false,
      devicePixelRatio: 1,
      layout: { padding: { top: 13, right: 40, bottom: 0, left: 0 } },
      plugins: {
        legend: { display: false },
        tooltip: { enabled: false },
        boxLegend: { show: showLegend }
      },
      scales: {
        x: {
          type: 'linear', min: 30, max: 160,
          afterBuildTicks: s => { s.ticks = lonTicks.map(v => ({ value: v })); },
          afterFit: s => { s.height = 53; },
          grid: { display: false, drawTicks: false },
          border: { display: false },
          ticks: { color: '#111', font: { family: FONT, size: 18 }, padding: 6, maxRotation: 0, autoSkip: false },
          title: { display: true, text: 'Longitude (degrees east)', color: '#111',
                   font: { family: FONT, size: 18 }, padding: { top: 0, bottom: 2 } }
        },
        y: {
          type: 'linear', min: 0, max: 130, reverse: true,
          afterBuildTicks: s => { s.ticks = dayTicks.map(v => ({ value: v })); },
          afterFit: s => { s.width = 108; },
          grid: { display: false, drawTicks: false },
          border: { display: false },
          ticks: { color: '#111', font: { family: FONT, size: 18 }, padding: 6, autoSkip: false,
                   callback: v => dayLabels[dayTicks.indexOf(v)] },
          title: { display: true, text: 'Days', color: '#111',
                   font: { family: FONT, size: 18 }, padding: { top: 8, bottom: 0 } }
        }
      }
    },
    plugins: [framePlugin, boxLegend]
  });
}

makePanel('panelA', 0, 346, wheelerA, schreckA, dynamoA, true);
makePanel('panelB', 549, 346, wheelerB, schreckB, dynamoB, false);
makePanel('panelC', 1083, 358, wheelerC, schreckC, dynamoC, false);
</script>
</body>
</html>
